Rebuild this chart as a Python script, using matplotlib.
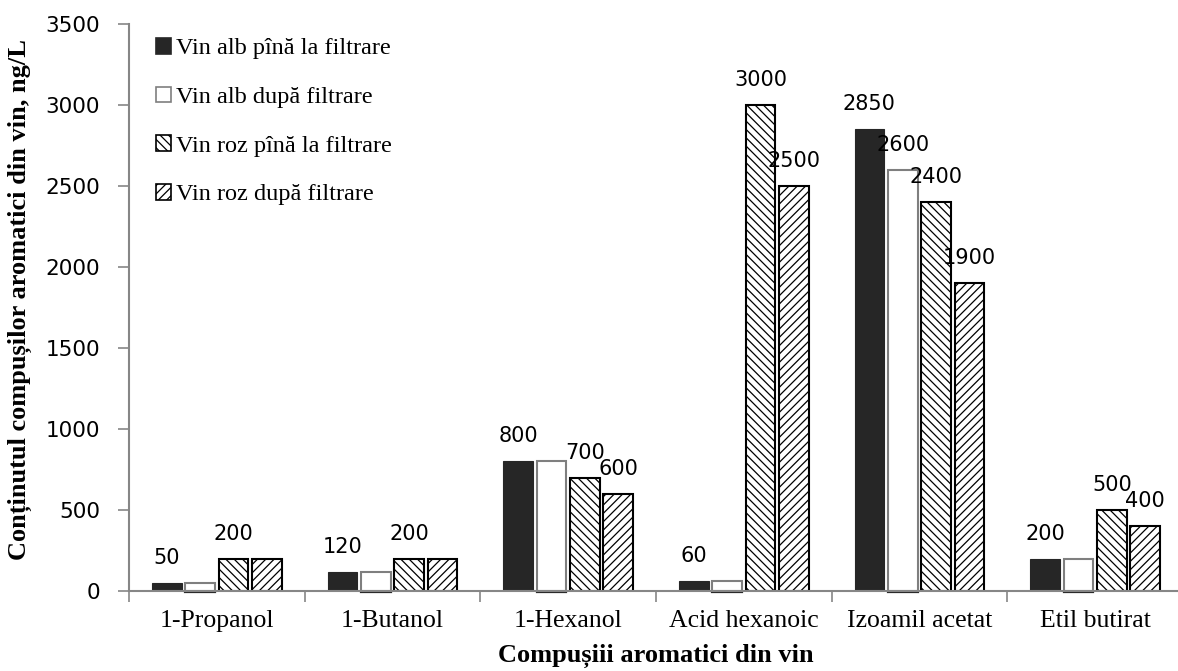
import numpy as np
import matplotlib.pyplot as plt

plt.rcParams['hatch.linewidth'] = 0.9

compusi = ['1-Propanol', '1-Butanol', '1-Hexanol', 'Acid hexanoic',
           'Izoamil acetat', 'Etil butirat']
serii = ['Vin alb pînă la filtrare', 'Vin alb după filtrare',
         'Vin roz pînă la filtrare', 'Vin roz după filtrare']

alb_inainte = [50, 120, 800, 60, 2850, 200]
alb_dupa = [50, 120, 800, 60, 2600, 200]
roz_inainte = [200, 200, 700, 3000, 2400, 500]
roz_dupa = [200, 200, 600, 2500, 1900, 400]

# which values get a number printed above the bar
arata_alb_inainte = [True, True, True, True, True, True]
arata_alb_dupa = [False, False, False, False, True, False]
arata_roz_inainte = [True, True, True, True, True, True]
arata_roz_dupa = [False, False, True, True, True, True]

valori = [alb_inainte, alb_dupa, roz_inainte, roz_dupa]
arata = [arata_alb_inainte, arata_alb_dupa, arata_roz_inainte, arata_roz_dupa]
stiluri = [
    dict(color='#262626', edgecolor='#262626', linewidth=0.8),
    dict(color='white', edgecolor='#7f7f7f', linewidth=1.5),
    dict(color='white', edgecolor='black', linewidth=1.5, hatch='\\\\\\\\'),
    dict(color='white', edgecolor='black', linewidth=1.5, hatch='////'),
]

serif = 'Liberation Serif'
gri = '#868686'

fig = plt.figure(figsize=(11.78, 6.71), dpi=100)
ax = fig.add_axes([129 / 1178, 1 - 591 / 671, 1054 / 1178, 567 / 671])

x = np.arange(len(compusi))
pas = 0.19
lat = 0.17
bare = []
for i, (v, st, nume) in enumerate(zip(valori, stiluri, serii)):
    b = ax.bar(x + (i - 1.5) * pas, v, lat, label=nume, zorder=3, **st)
    bare.append(b)

# dark bottom edge of the white bars, drawn just under the axis line
for p in bare[1].patches:
    ax.plot([p.get_x(), p.get_x() + p.get_width()], [-9, -9],
            color='#262626', lw=1.6, zorder=4, clip_on=False)

for b, v, m in zip(bare, valori, arata):
    for p, val, ok in zip(b.patches, v, m):
        if ok:
            ax.annotate(str(val), (p.get_x() + p.get_width() / 2, val),
                        xytext=(0, 19), textcoords='offset pixels',
                        ha='center', va='baseline', fontsize=15,
                        family='DejaVu Sans', zorder=5)

ax.set_xlim(-0.5, 5.5)
ax.set_ylim(0, 3500)
ax.set_yticks(np.arange(0, 3501, 500))
ax.set_xticks(np.arange(-0.5, 6, 1))
ax.set_xticklabels([])
ax.set_xticks(x, minor=True)
ax.set_xticklabels(compusi, minor=True, family=serif, fontsize=18.5)
ax.tick_params(axis='x', which='minor', length=0, pad=14)
ax.tick_params(axis='x', which='major', length=8, color=gri, width=1.2)
ax.tick_params(axis='y', length=8, color=gri, width=1.2, pad=13,
               labelsize=15.5)
for t in ax.get_yticklabels():
    t.set_family('DejaVu Sans')

for s in ['top', 'right']:
    ax.spines[s].set_visible(False)
for s in ['left', 'bottom']:
    ax.spines[s].set_color(gri)
    ax.spines[s].set_linewidth(1.5)
    ax.spines[s].set_zorder(4)

fig.text(656 / 1178, 1 - 656 / 671, 'Compușiii aromatici din vin',
         ha='center', va='center', family=serif, fontweight='bold',
         fontsize=19)
fig.text(20 / 1178, 1 - 300 / 671,
         'Conținutul compușilor aromatici din vin, ng/L',
         ha='center', va='center', rotation=90, family=serif,
         fontweight='bold', fontsize=19)

leg = ax.legend(loc='upper left', bbox_to_anchor=(156 / 1178, 1 - 38 / 671),
                bbox_transform=fig.transFigure, frameon=False,
                prop=dict(family=serif, size=17.5), handlelength=0.62,
                handleheight=0.62, handletextpad=0.2, labelspacing=1.12,
                borderpad=0, borderaxespad=0)
for h in leg.legend_handles:
    h.set_linewidth(1.2)

fig.savefig('out.png', dpi=100)
